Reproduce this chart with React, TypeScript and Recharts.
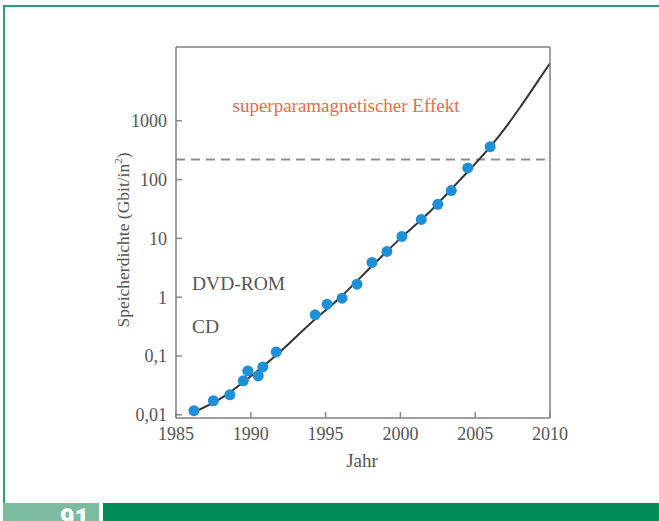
import React from 'react';
import { ComposedChart, Line, Scatter, XAxis, YAxis, ReferenceLine } from 'recharts';

// Measured data points (year, storage density in Gbit/in²)
const pointYears = [1986.2, 1987.5, 1988.6, 1989.5, 1989.8, 1990.5, 1990.8, 1991.7, 1994.3, 1995.1, 1996.1, 1997.1, 1998.1, 1999.1, 2000.1, 2001.4, 2002.5, 2003.4, 2004.5, 2006.0];
const pointValues = [0.0117, 0.0173, 0.0218, 0.0377, 0.0557, 0.0457, 0.065, 0.117, 0.5, 0.76, 0.96, 1.66, 3.9, 6.0, 10.8, 21, 38, 65, 158, 363];

// Fitted trend curve
const curveYears = [1986, 1988, 1990, 1992, 1994, 1996, 1998, 2000, 2002, 2004, 2006, 2007, 2008, 2009, 2010];
const curveValues = [0.0105, 0.019, 0.045, 0.12, 0.36, 1.0, 3.2, 10, 29, 100, 360, 750, 1700, 4000, 9500];

const xTicks = [1985, 1990, 1995, 2000, 2005, 2010];
const yTicks = [0.01, 0.1, 1, 10, 100, 1000];
const limitValue = 220;

const points = pointYears.map((year, i) => ({ year, value: pointValues[i] }));
const curve = curveYears.map((year, i) => ({ year, value: curveValues[i] }));

const AXIS = '#7f7f7f';
const TEXT = '#555555';
const SERIF = '"Liberation Serif", "DejaVu Serif", serif';

const fmt = (v: number) => String(v).replace('.', ',');

const Dot = (props: any) => {
  const { cx, cy } = props;
  return <circle cx={cx} cy={cy} r={5.5} fill="#1e90d8" />;
};

export default function App() {
  return (
    <div style={{ position: 'absolute', left: 0, top: 0, width: 659, height: 521, background: '#fff', overflow: 'hidden' }}>
      {/* green frame */}
      <div style={{ position: 'absolute', left: 3, top: 5, width: 656, height: 2, background: '#2a9e76' }} />
      <div style={{ position: 'absolute', left: 3, top: 5, width: 2, height: 498, background: '#2a9e76' }} />
      <div style={{ position: 'absolute', left: 3, top: 503, width: 96, height: 18, background: '#7cbc9e', overflow: 'hidden' }}>
        <div style={{ position: 'absolute', right: 10, top: 3, color: '#fff', fontFamily: 'Roboto, "Liberation Sans", sans-serif', fontWeight: 900, fontSize: 25, lineHeight: '25px' }}>91</div>
      </div>
      <div style={{ position: 'absolute', left: 103, top: 503, width: 556, height: 18, background: '#008c5a' }} />

      <div style={{ position: 'absolute', left: 0, top: 0 }}>
        <ComposedChart width={659} height={521} margin={{ top: 37, right: 99, bottom: 73, left: 116 }}>
          <XAxis xAxisId="b" dataKey="year" type="number" domain={[1985, 2010]} ticks={xTicks} allowDataOverflow
            orientation="bottom" height={30} tickSize={-6} tickMargin={15}
            stroke={AXIS} strokeWidth={1.5} tickLine={{ stroke: '#888', strokeWidth: 1.5 }}
            tick={{ fill: TEXT, fontSize: 18, fontFamily: SERIF }} />
          <XAxis xAxisId="t" dataKey="year" type="number" domain={[1985, 2010]} ticks={xTicks} allowDataOverflow
            orientation="top" height={10} tickSize={-6} tick={false} stroke={AXIS} strokeWidth={1.5}
            tickLine={{ stroke: '#888', strokeWidth: 1.5 }} />
          <YAxis yAxisId="l" dataKey="value" type="number" scale="log" domain={[0.0088, 18000]} ticks={yTicks} allowDataOverflow
            width={60} tickSize={-6} tickMargin={15} tickFormatter={fmt}
            stroke={AXIS} strokeWidth={1.5} tickLine={{ stroke: '#888', strokeWidth: 1.5 }}
            tick={{ fill: TEXT, fontSize: 18, fontFamily: SERIF }} />
          <YAxis yAxisId="r" orientation="right" dataKey="value" type="number" scale="log" domain={[0.0088, 18000]} ticks={yTicks} allowDataOverflow
            width={10} tickSize={-6} tick={false} stroke={AXIS} strokeWidth={1.5}
            tickLine={{ stroke: '#888', strokeWidth: 1.5 }} />
          <ReferenceLine xAxisId="b" yAxisId="l" y={limitValue} stroke="#8f8f8f" strokeWidth={2} strokeDasharray="9 6" />
          <Line xAxisId="b" yAxisId="l" data={curve} dataKey="value" type="monotone" stroke="#333" strokeWidth={2}
            dot={false} activeDot={false} isAnimationActive={false} />
          <Scatter xAxisId="b" yAxisId="l" data={points} dataKey="value" shape={<Dot />} isAnimationActive={false} />
        </ComposedChart>
      </div>

      <svg width={659} height={521} style={{ position: 'absolute', left: 0, top: 0, pointerEvents: 'none' }}>
        <text x={346} y={112} textAnchor="middle" fill="#ef6a45" fontFamily={SERIF} fontSize={19}>superparamagnetischer Effekt</text>
        <text x={192} y={290} fill={TEXT} fontFamily={SERIF} fontSize={19.5}>DVD-ROM</text>
        <text x={192} y={333} fill={TEXT} fontFamily={SERIF} fontSize={19.5}>CD</text>
        <text x={362} y={467} textAnchor="middle" fill={TEXT} fontFamily={SERIF} fontSize={19}>Jahr</text>
        <text transform="translate(129,240) rotate(-90)" textAnchor="middle" fill={TEXT} fontFamily={SERIF} fontSize={17.5}>
          Speicherdichte (Gbit/in<tspan dy={-7} fontSize={11}>2</tspan><tspan dy={7}>)</tspan>
        </text>
      </svg>
    </div>
  );
}
